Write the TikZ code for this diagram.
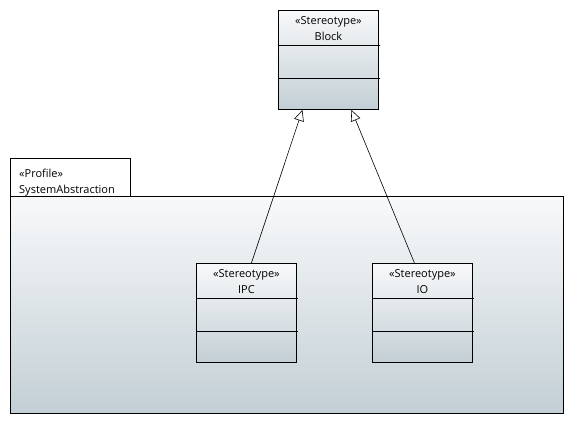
\documentclass[tikz,border=0pt]{standalone}
\usepackage{fontspec}
\setmainfont{Open Sans}
\usetikzlibrary{arrows.meta, positioning}
\definecolor{shadetop}{HTML}{F8F9FA}
\definecolor{shadebot}{HTML}{C3CFD5}

\begin{document}
\begin{tikzpicture}[
        x=1pt, y=-1pt,
        font=\fontsize{11}{16}\selectfont,
        % Styles
        stereo_box/.style={draw=black, line width=0.9pt, top color=shadetop, bottom color=shadebot, minimum width=100pt, minimum height=99pt, inner sep=0pt, anchor=north west},
        pkg_tab/.style={draw=black, line width=0.7pt, fill=white, minimum width=120pt, minimum height=38pt, inner sep=0pt, anchor=north west},
        pkg_body/.style={draw=black, line width=0.9pt, top color=shadetop, bottom color=shadebot, minimum width=553pt, minimum height=217pt, inner sep=0pt, anchor=north west},
        title/.style={align=center, inner sep=0pt, anchor=north},
        compart/.style={draw=black, line width=0.8pt},
        generalize/.style={-{Triangle[open, length=11pt, width=10pt]}, line width=0.6pt, draw=black}
    ]
    \useasboundingbox (0,0) rectangle (573,424);

    % Profile package
    \node[pkg_tab] (tab) at (10,158) {};
    \node[pkg_body] (pkg) at (10,196) {};
    \node[align=left, inner sep=0pt, anchor=north west] (pkgname) at ([xshift=9pt, yshift=-11pt]tab.north west) {«Profile»\\SystemAbstraction};

    % Stereotype boxes
    \node[stereo_box] (block) at (278,10) {};
    \node[stereo_box] (ipc) at (196,263) {};
    \node[stereo_box] (io) at (372,263) {};

    \node[title] (block_name) at ([yshift=-6pt]block.north) {«Stereotype»\\Block};
    \node[title] (ipc_name) at ([yshift=-6pt]ipc.north) {«Stereotype»\\IPC};
    \node[title] (io_name) at ([yshift=-6pt]io.north) {«Stereotype»\\IO};

    % Compartments
    \foreach \cls in {block, ipc, io} {
        \draw[compart] ([yshift=-35pt]\cls.north west) -- ([yshift=-35pt, xshift=1pt]\cls.north east);
        \draw[compart] ([yshift=-68pt]\cls.north west) -- ([yshift=-68pt, xshift=1pt]\cls.north east);
    }

    % Generalizations
    \draw[generalize] ([xshift=5pt]ipc.north) -- ([xshift=-26pt]block.south);
    \draw[generalize] ([xshift=-8pt]io.north) -- ([xshift=23pt]block.south);

\end{tikzpicture}
\end{document}
